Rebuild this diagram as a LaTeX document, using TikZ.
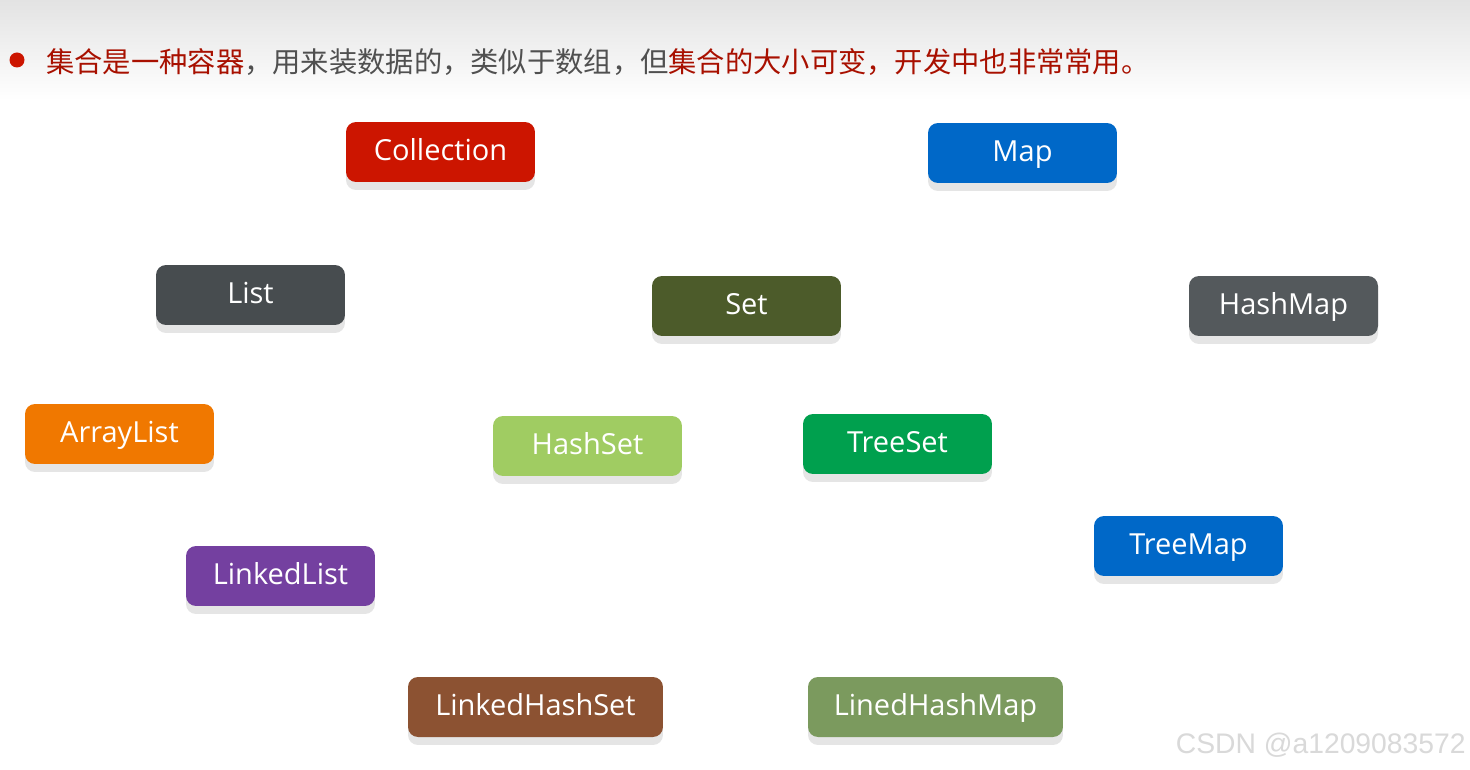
\documentclass[tikz,border=0pt]{standalone}
\usepackage{fontspec}
\setmainfont{Open Sans}
\newfontfamily\cjk{Noto Sans CJK SC}
\newfontfamily\wmfont{Liberation Sans}
\usetikzlibrary{shadows}
\definecolor{colred}{HTML}{CC1500}
\definecolor{mapblue}{HTML}{0068C8}
\definecolor{listgray}{HTML}{474C4F}
\definecolor{setolive}{HTML}{4C5B2A}
\definecolor{hmgray}{HTML}{54595C}
\definecolor{alorange}{HTML}{F07800}
\definecolor{hsgreen}{HTML}{A0CC62}
\definecolor{tsgreen}{HTML}{00A04E}
\definecolor{llpurple}{HTML}{7440A0}
\definecolor{lhsbrown}{HTML}{8C5232}
\definecolor{lhmgreen}{HTML}{7B9A5E}
\definecolor{titlered}{HTML}{A81000}
\definecolor{titlegray}{HTML}{505050}
\tikzset{gbox/.style={
    rectangle,
    text=white,
    font=\fontsize{16.5}{19}\selectfont,
    text height=1.85ex,
    text depth=0.1ex,
    minimum height=1.2cm,
    minimum width=3.78cm,
    rounded corners=0.2cm,
    drop shadow={shadow xshift=0pt,shadow yshift=-0.16cm,fill=black!10,opacity=1}
  },
  wbox/.style={gbox,minimum width=5.1cm},
  redbox/.style={gbox,fill=colred},
  bluebox/.style={gbox,fill=mapblue},
  graybox/.style={gbox,fill=listgray},
  olivebox/.style={gbox,fill=setolive},
  hmbox/.style={gbox,fill=hmgray},
  orangebox/.style={gbox,fill=alorange},
  lgreenbox/.style={gbox,fill=hsgreen},
  greenbox/.style={gbox,fill=tsgreen},
  purplebox/.style={gbox,fill=llpurple},
  brownbox/.style={wbox,fill=lhsbrown},
  sagebox/.style={wbox,fill=lhmgreen},
}

\begin{document}
\begin{tikzpicture}[x=0.02cm,y=-0.02cm]
  \useasboundingbox (0,0) rectangle (1470,770);
  \fill[white] (0,0) rectangle (1470,770);
  \shade[top color=black!11,bottom color=white] (0,0) rectangle (1470,100);
  % title line
  \fill[colred] (17,60) circle (7.5);
  \node[anchor=west,inner sep=0pt,font=\cjk\fontsize{16.1}{19}\selectfont] (title) at (46,62)
    {\textcolor{titlered}{集合是一种容器}\textcolor{titlegray}{，用来装数据的，类似于数组，但}\textcolor{titlered}{集合的大小可变，开发中也非常常用。}};
  % collections
  \node [redbox] (coll) at (440.5,152) {Collection};
  \node [bluebox] (map) at (1022.5,153) {Map};
  \node [graybox] (list) at (250.5,295) {List};
  \node [olivebox] (set) at (746.5,306) {Set};
  \node [hmbox] (hashmap) at (1283.5,306) {HashMap};
  \node [orangebox] (arraylist) at (119.5,434) {ArrayList};
  \node [lgreenbox] (hashset) at (587.5,446) {HashSet};
  \node [greenbox] (treeset) at (897.5,444) {TreeSet};
  \node [bluebox] (treemap) at (1188.5,546) {TreeMap};
  \node [purplebox] (linkedlist) at (280.5,576) {LinkedList};
  \node [brownbox] (lhset) at (535.5,707) {LinkedHashSet};
  \node [sagebox] (lhmap) at (935.5,707) {LinedHashMap};
  % watermark
  \node[anchor=east,inner sep=0pt,text=black!15,font=\wmfont\fontsize{16.1}{18}\selectfont] (mark) at (1466,745) {CSDN @a1209083572};
\end{tikzpicture}
\end{document}
